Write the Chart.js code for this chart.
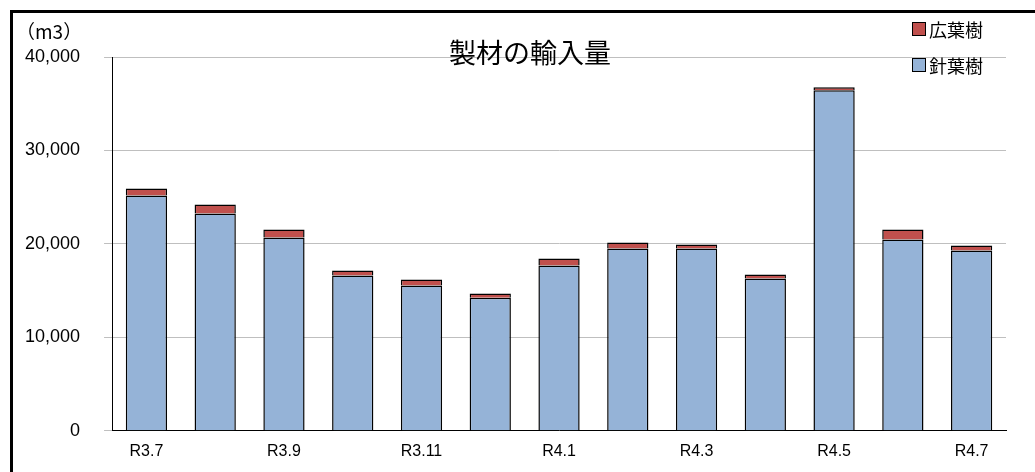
<!DOCTYPE html>
<html><head><meta charset="utf-8">
<script src="https://cdn.jsdelivr.net/npm/chart.js@4"></script>
<style>
body{margin:0;background:#fff;}
#wrap{position:absolute;left:10px;top:10px;width:1025px;height:462px;border-left:3px solid #000;border-top:3px solid #000;box-sizing:border-box;}
#unit{position:absolute;left:16px;top:17px;font:19px "Noto Sans CJK JP";color:#000;}
#title{position:absolute;left:0;width:1060px;text-align:center;top:32px;font:27px "Noto Sans CJK JP";color:#000;}
#leg{position:absolute;left:912px;top:20px;font:18px "Noto Sans CJK JP";line-height:1;}
#leg div{margin-bottom:18px;display:flex;align-items:center}
#leg span{display:inline-block;width:12px;height:12px;border:1px solid #000;margin-right:3px}
</style></head><body>
<div id="wrap"></div>
<canvas id="c" width="1035" height="472" style="position:absolute;left:0;top:0"></canvas>
<div id="unit">（m3）</div>
<div id="title">製材の輸入量</div>
<div id="leg"><div><span style="background:#C0504D"></span>広葉樹</div><div><span style="background:#95B3D7"></span>針葉樹</div></div>
<script>
const categories=["R3.7","R3.8","R3.9","R3.10","R3.11","R3.12","R4.1","R4.2","R4.3","R4.4","R4.5","R4.6","R4.7"];
const softwood=[25190,23260,20690,16610,15540,14250,17680,19500,19500,16290,36440,20470,19290];
const hardwood=[750,960,850,540,640,430,750,650,430,430,320,1070,540];
const yTicks=[0,10000,20000,30000,40000];
new Chart(document.getElementById('c'),{type:'bar',
data:{labels:categories,datasets:[
{label:'針葉樹',data:softwood,backgroundColor:'#95B3D7',borderColor:'#000',borderWidth:1.5,categoryPercentage:1,barPercentage:0.6},
{label:'広葉樹',data:hardwood,backgroundColor:'#C0504D',borderColor:'#000',borderWidth:1.5,categoryPercentage:1,barPercentage:0.6}]},
options:{responsive:false,animation:false,
layout:{padding:{left:1,right:29,top:57,bottom:8}},
plugins:{legend:{display:false},title:{display:false},tooltip:{enabled:false}},
scales:{x:{stacked:true,grid:{display:false},border:{color:'#000'},ticks:{autoSkip:false,maxRotation:0,color:'#000',font:{size:16,family:'Liberation Sans'},callback:(v,i)=>i%2===0?categories[i]:''}},
y:{stacked:true,min:0,max:40000,afterBuildTicks:a=>{a.ticks=yTicks.map(v=>({value:v}))},grid:{color:'#bfbfbf'},border:{color:'#000'},ticks:{padding:24,color:'#000',font:{size:18,family:'Liberation Sans'},callback:v=>v.toLocaleString('en-US')}}}}
});
</script></body></html>
